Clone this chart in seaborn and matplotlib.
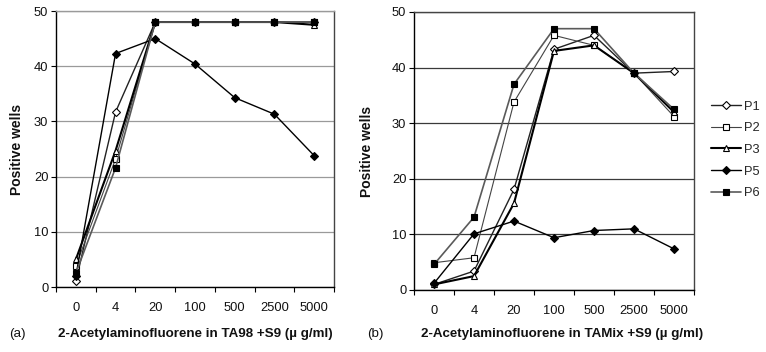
import numpy as np
import pandas as pd
import matplotlib
matplotlib.use("Agg")
import matplotlib.pyplot as plt
import seaborn as sns
from matplotlib.ticker import FixedLocator

# ---- data ----
doses = ["0", "4", "20", "100", "500", "2500", "5000"]
series_names = ["P1", "P2", "P3", "P5", "P6"]

# (a) TA98 +S9
a_P1 = [1.1, 31.7, 48, 48, 48, 48, 48]
a_P2 = [3.8, 23.2, 48, 48, 48, 48, 48]
a_P3 = [5.0, 24.7, 48, 48, 48, 48, 47.5]
a_P5 = [2.0, 42.3, 45.0, 40.4, 34.3, 31.3, 23.8]
a_P6 = [2.5, 21.6, 48, 48, 48, 48, 48]

# (b) TAMix +S9
b_P1 = [1.0, 3.4, 18.1, 43.3, 45.8, 39.0, 39.3]
b_P2 = [4.9, 5.8, 33.8, 45.8, 44.0, 39.0, 31.2]
b_P3 = [1.0, 2.5, 15.6, 43.0, 44.0, 39.0, 32.0]
b_P5 = [1.2, 10.1, 12.4, 9.4, 10.7, 11.0, 7.4]
b_P6 = [4.6, 13.1, 37.0, 47.0, 47.0, 39.0, 32.5]

y_ticks = [0, 10, 20, 30, 40, 50]

panel_a = dict(zip(series_names, [a_P1, a_P2, a_P3, a_P5, a_P6]))
panel_b = dict(zip(series_names, [b_P1, b_P2, b_P3, b_P5, b_P6]))

styles = {
    "P1": dict(marker="D", mfc="white", mec="black", color="#222222", lw=1.0, ms=4.2),
    "P2": dict(marker="s", mfc="white", mec="black", color="#444444", lw=0.8, ms=4.6),
    "P3": dict(marker="^", mfc="white", mec="black", color="black", lw=1.5, ms=5.0),
    "P5": dict(marker="D", mfc="black", mec="black", color="black", lw=1.0, ms=4.2),
    "P6": dict(marker="s", mfc="black", mec="black", color="#5a5a5a", lw=1.2, ms=4.6),
}

sns.set_theme(style="white")
plt.rcParams["font.family"] = ["Liberation Sans", "DejaVu Sans"]

FS_TICK = 9.3
FS_LAB = 9.6

W, H = 766, 352
fig = plt.figure(figsize=(W / 100, H / 100), dpi=100)

def px_axes(x0, x1, ytop, ybot):
    return fig.add_axes([x0 / W, 1 - ybot / H, (x1 - x0) / W, (ybot - ytop) / H])

ax1 = px_axes(56, 334, 11, 287)
ax2 = px_axes(414, 694, 12, 290)

def draw(ax, panel, grid_color, frame_color, top_color):
    ax.set_axisbelow(True)
    for name in series_names:
        st = styles[name]
        df = pd.DataFrame({"x": np.arange(len(doses)), "y": panel[name]})
        sns.lineplot(data=df, x="x", y="y", ax=ax, color=st["color"], lw=st["lw"],
                     marker=st["marker"], markersize=st["ms"],
                     markerfacecolor=st["mfc"], markeredgecolor=st["mec"],
                     markeredgewidth=0.8, label=name, legend=False)
    ax.set_xlim(-0.5, len(doses) - 0.5)
    ax.set_ylim(0, 50)
    ax.set_yticks(y_ticks)
    ax.set_yticklabels([str(t) for t in y_ticks], fontsize=FS_TICK, color="#111111")
    ax.set_xticks(np.arange(len(doses)))
    ax.set_xticklabels(doses, fontsize=FS_TICK, color="#111111")
    ax.xaxis.set_minor_locator(FixedLocator(np.arange(len(doses) + 1) - 0.5))
    ax.tick_params(axis="x", which="major", length=0, pad=11)
    ax.tick_params(axis="x", which="minor", length=3.5, width=0.8, color="black", direction="out", bottom=True)
    ax.tick_params(axis="y", which="major", length=3.5, width=0.8, color="black", direction="out", left=True, pad=2)
    ax.yaxis.grid(True, color=grid_color, lw=0.9)
    ax.xaxis.grid(False)
    ax.set_xlabel("")
    ax.set_ylabel("")
    for s in ["left", "bottom"]:
        ax.spines[s].set_color("black")
        ax.spines[s].set_linewidth(1.0)
    ax.spines["right"].set_color(frame_color)
    ax.spines["right"].set_linewidth(1.0)
    ax.spines["top"].set_color(top_color)
    ax.spines["top"].set_linewidth(1.0)
    for s in ax.spines.values():
        s.set_visible(True)

draw(ax1, panel_a, "#9a9a9a", "#444444", "#9a9a9a")
draw(ax2, panel_b, "#3a3a3a", "#444444", "#444444")

# labels
fig.text(17 / W, 1 - 149 / H, "Positive wells", rotation=90, ha="center", va="center",
         fontsize=10, fontweight="bold", color="#111111")
fig.text(367 / W, 1 - 151 / H, "Positive wells", rotation=90, ha="center", va="center",
         fontsize=10, fontweight="bold", color="#111111")
fig.text(17 / W, 1 - 334 / H, "(a)", ha="center", va="center", fontsize=FS_LAB, color="#111111")
fig.text(375 / W, 1 - 334 / H, "(b)", ha="center", va="center", fontsize=FS_LAB, color="#111111")
fig.text(195 / W, 1 - 334 / H, "2-Acetylaminofluorene in TA98 +S9 (\u00b5 g/ml)",
         ha="center", va="center", fontsize=FS_LAB, fontweight="bold", color="#111111")
fig.text(562 / W, 1 - 334 / H, "2-Acetylaminofluorene in TAMix +S9 (\u00b5 g/ml)",
         ha="center", va="center", fontsize=FS_LAB, fontweight="bold", color="#111111")

handles, labels = ax2.get_legend_handles_labels()
fig.legend(handles, labels, loc="center left", bbox_to_anchor=(711 / W, 1 - 150 / H),
           frameon=False, fontsize=FS_TICK, handlelength=2.3, handletextpad=0.25,
           labelspacing=0.75, borderpad=0, borderaxespad=0)

fig.savefig("out.png", dpi=100)
